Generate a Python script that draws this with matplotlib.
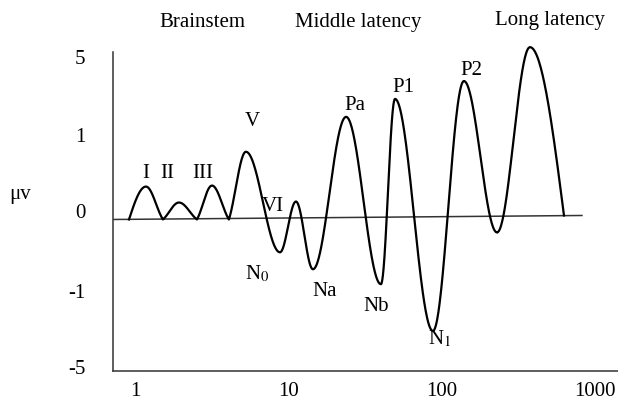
import matplotlib.pyplot as plt
import numpy as np

plt.rcParams['font.family'] = ['Liberation Serif', 'DejaVu Serif']
plt.rcParams['mathtext.fontset'] = 'stix'

# extrema of the evoked-potential wave: latency (ms, log axis) and amplitude
# (amplitude in display units: labels 5, 1, 0, -1, -5 sit at 2, 1, 0, -1, -2)
lat = [0.907, 1.171, 1.512, 1.924, 2.523, 3.162, 4.08, 5.27, 8.80, 11.19,
       14.45, 23.8, 40.2, 49.7, 87.9, 140.2, 230.7, 378.7, 632.0]
amp = [-0.104, 0.325, -0.104, 0.117, -0.104, 0.338, -0.104, 0.779, -0.532, 0.130,
       -0.753, 1.234, -0.948, 1.468, -1.558, 1.701, -0.273, 2.143, -0.052]
# how sharply the wave meets the baseline at each point (0 = round, 1 = corner)
corner = [1.0, 0, 0.5, 0, 0.5, 0, 0.5, 0, 0, 0,
          0, 0, 0, 0, 0, 0, 0, 0, 1.0]

base_x = [0.713, 828.0]
base_y = [-0.104, -0.052]

peak_names = ['I', 'II', 'III', 'V', 'VI', 'N$_0$', 'Na', 'Pa', 'Nb', 'P1', 'N$_1$', 'P2']
peak_x = [1.17, 1.61, 2.76, 5.77, 7.92, 6.22, 17.3, 27.2, 37.3, 56.0, 97.7, 155.9]
peak_y = [0.494, 0.494, 0.494, 1.169, 0.065, -0.818, -1.039, 1.377, -1.234, 1.623, -1.662, 1.844]

groups = ['Brainstem', 'Middle latency', 'Long latency']
group_x = [2.72, 28.5, 512]
group_y = [2.47, 2.47, 2.49]

xticks = [1, 10, 100, 1000]
ytick_pos = [2.01, 1.0, 0, -1.04, -2.03]
ytick_lab = ['5', '1', '0', '-1', '-5']


def smooth_wave(xs, ys, corners, n=80):
    lx = np.log10(xs)
    out_x, out_y = [], []
    for i in range(len(xs) - 1):
        t = np.linspace(0, 1, n)
        soft = (1 - np.cos(np.pi * t)) / 2
        if corners[i] > 0:
            f = (1 - corners[i]) * soft + corners[i] * np.sin(np.pi * t / 2)
        elif corners[i + 1] > 0:
            w = corners[i + 1]
            f = (1 - w) * soft + w * (1 - np.cos(np.pi * t / 2))
        else:
            f = soft
        out_x.append(10 ** (lx[i] + (lx[i + 1] - lx[i]) * t))
        out_y.append(ys[i] + (ys[i + 1] - ys[i]) * f)
    return np.concatenate(out_x), np.concatenate(out_y)


fig = plt.figure(figsize=(6.18, 4.05), dpi=100)
ax = fig.add_axes([113 / 618, 1 - 371 / 405, 1 - 113 / 618, (371 - 52) / 405])

wx, wy = smooth_wave(lat, amp, corner)
ax.plot(base_x, base_y, color='#333333', lw=1.1)
ax.plot(wx, wy, color='black', lw=1.6, clip_on=False)

for name, x, y in zip(peak_names, peak_x, peak_y):
    ax.text(x, y, name, fontsize=15, ha='center', va='center')
for name, x, y in zip(groups, group_x, group_y):
    ax.text(x, y, name, fontsize=15, ha='center', va='center')
fig.text(20 / 618, 1 - 195 / 405, 'μv', fontsize=15, ha='center', va='center')

ax.set_xscale('log')
ax.set_xlim(0.713, 1425)
ax.set_ylim(-2.08, 2.08)
ax.set_xticks(xticks)
ax.set_xticklabels([str(v) for v in xticks])
ax.minorticks_off()
ax.set_yticks(ytick_pos)
ax.set_yticklabels(ytick_lab)
ax.tick_params(axis='both', length=0, labelsize=15)
ax.tick_params(axis='x', pad=8)
ax.tick_params(axis='y', pad=20)
for s in ['top', 'right']:
    ax.spines[s].set_visible(False)
for s in ['left', 'bottom']:
    ax.spines[s].set_linewidth(1.1)
    ax.spines[s].set_color('#333333')

fig.savefig('out.png', dpi=100)
